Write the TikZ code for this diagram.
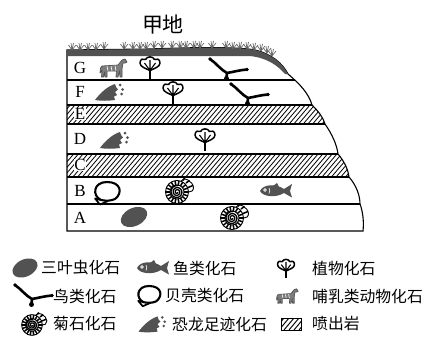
\documentclass[tikz,border=0pt]{standalone}
\usepackage{fontspec}
\setmainfont{Liberation Serif}
\newfontfamily\cjk{Noto Sans CJK SC}
\definecolor{fossil}{gray}{0.32}
\tikzset{
  trilobite/.pic={\fill[fossil, rotate=25] (0,0) ellipse (14 and 9);},
  fishfossil/.pic={
    \fill[fossil] (-16,0) .. controls (-13,-7) and (0,-7.5) .. (8,-2) -- (16,-7)
      -- (14,0) -- (16,6.5) -- (8,2) .. controls (0,7) and (-13,6) .. (-16,0) -- cycle;
    \fill[fossil] (-3,-5) -- (1,-8) -- (3,-4) -- cycle;
    \fill[white] (-11,-1) circle (1.8); \fill[fossil] (-11,-1) circle (0.7);
    \draw[white, line width=0.6] (-7,-3) .. controls (-6,-1) .. (-7,2.5);},
  plantleaf/.pic={
    \draw[line width=1.5, line join=round] (0,3.5) .. controls (-4,1.5) and (-10,0) .. (-10,-4)
      .. controls (-10,-8) and (-6.5,-9) .. (-4.5,-7.5) .. controls (-3,-11) and (3,-11) .. (4.5,-7.5)
      .. controls (6.5,-9) and (10,-8) .. (10,-4) .. controls (10,0) and (4,1.5) .. (0,3.5) -- cycle;
    \draw[line width=1.1] (0,3.5) -- (-5.5,-4) (0,3.5) -- (0,-7) (0,3.5) -- (5.5,-4);
    \draw[line width=1.7] (0,3.5) -- (0,12);},
  birdbone/.pic={
    \draw[line width=2.6, line cap=round, line join=round] (-17,-14) .. controls (-11,-10) and (-6,-3) .. (0,0)
      .. controls (6,-1) and (13,-3) .. (20,-3.5);
    \draw[line width=2.6, line cap=round] (0,0) -- (-0.5,5);
    \fill (-0.5,5.5) circle (2.5) (-17,-14) circle (1.9) (20,-3.5) circle (1.8);},
  shellfossil/.pic={
    \draw[line width=2.1, line join=round] (-6,8) .. controls (-15,4) and (-14,-10) .. (0,-10)
      .. controls (14,-10) and (16,1) .. (8,7) .. controls (4,9) and (-1,9) .. (-6,8);
    \draw[line width=1.7, line join=round] (-6,8) -- (-12,6.5) -- (-7,12.5) -- (1,9);},
  ammonite/.pic={
    \draw[line width=0.9] (0,0) circle (11.5) (0,0) circle (7);
    \foreach \a in {0,20,...,340} \draw[line width=1.5] (\a:7) -- (\a:11.5);
    \draw[line width=1.3] plot[domain=0:1000, samples=100, smooth] (\x:{0.7+\x/1000*5.8});
    \draw[line width=0.9] (-70:11.5) .. controls (6,-16) and (16,-11) .. (16.5,-4.5)
      .. controls (16.5,-1) and (14,0) .. (11.5,0);
    \draw[line width=1.5] (6,-11.5) -- (7.5,-14) (9,-9) -- (12.5,-11.5) (11,-4.5) -- (16,-6.5);},
  dinotrack/.pic={
    \fill[fossil] (-11,7) .. controls (-6,0) and (2,-7) .. (9,-9) -- (10,-6) -- (12,-3.5) -- (9,-1)
      -- (11,2) -- (8,3.5) -- (9,7) .. controls (2,8) and (-6,8) .. (-11,7) -- cycle;
    \fill[fossil] (14,-8) circle (1.5) (16.5,-3.5) circle (1.5) (15.5,1) circle (1.5);},
  horse/.pic={
    \filldraw[fill=fossil!75!white, draw=fossil, line width=0.7, line join=round]
      (-11,-2) -- (5,-3) -- (9,-8) -- (12,-9) -- (14,-6) -- (12,-5) -- (10,-5) -- (9,1)
      -- (9,9) -- (7,9) -- (6.5,3) -- (5,9) -- (3,9) -- (3.5,3) -- (-6,3) -- (-6,9) -- (-8,9)
      -- (-8.5,4) -- (-9.5,9) -- (-11.5,9) -- (-11,2) -- (-13,5) -- (-12.5,0) -- cycle;
    \draw[white, line width=0.6] (-6,-2) -- (-5,3) (-2,-2) -- (-1,3) (2,-2.5) -- (3,3);},
  hatchbox/.pic={
    \draw[line width=0.9] (-10,-6) rectangle (10,6);
    \clip (-10,-6) rectangle (10,6);
    \foreach \k in {0,...,9} \draw[line width=0.9] (-22+5*\k,6) -- ++(10,-12);},
  tuft/.pic={\draw[gray!80!black, line width=0.7] (0,0) -- (-3.5,-5) (0,0) -- (-1,-7) (0,0) -- (1.5,-7) (0,0) -- (4,-5);}
}
\def\blockpath{(67,231) -- (67,50) -- (150,49) .. controls (200,47) and (240,47) .. (255,50)
  .. controls (272,54) and (283,64) .. (288,74) .. controls (300,84) and (309,94) .. (312,105)
  .. controls (318,111) and (323,117) .. (325,124) .. controls (332,134) and (337,145) .. (338,154)
  .. controls (344,161) and (348,169) .. (349,177) .. controls (356,185) and (360,195) .. (360,204)
  .. controls (363,212) and (364,222) .. (363,231) -- cycle}
\begin{document}
\begin{tikzpicture}[x=1pt, y=-1pt,
    layerlbl/.style={font=\fontsize{17}{17}\selectfont, inner sep=0.5pt},
    legendtxt/.style={anchor=west, inner sep=0pt, font=\cjk\fontsize{15.8}{16}\selectfont},
    bound/.style={line width=1.1}]
  \useasboundingbox (0,0) rectangle (424,340);
  \node[font=\cjk\fontsize{21}{21}\selectfont] (title) at (163,25) {甲地};
  \begin{scope}
    \clip \blockpath;
    \foreach \ya/\yb in {105/124, 154/177} {
      \begin{scope}
        \clip (60,\ya) rectangle (380,\yb);
        \foreach \k in {0,...,70}
        \draw[line width=0.8] (40+4.7*\k,\yb) -- ++({0.85*(\yb-\ya)},{\ya-\yb});
      \end{scope}
    }
    \foreach \y in {80, 105, 124, 154, 177, 204}
    \draw[bound] (60,\y) -- (380,\y);
  \end{scope}
  \draw[bound] \blockpath;
  \fill[fossil] (67,50) -- (150,49) .. controls (200,47) and (240,47) .. (255,50)
    .. controls (272,54) and (283,64) .. (288,74) -- (285,74)
    .. controls (278,66) and (268,58) .. (250,56) -- (67,56) -- cycle;
  \foreach \x/\y in {72/50, 80/50, 88/50, 96/50, 104/49, 124/49, 133/49, 140/49, 146/49,
    154/48, 162/48, 172/48, 180/48, 186/48, 194/48, 200/48, 212/48, 226/48, 233/49,
    240/49, 247/49, 254/50, 261/51, 267/53, 272/56}
  \pic at (\x,\y) {tuft};
  \foreach \n/\y in {G/68, F/92, D/139, B/191, A/218}
  \node[layerlbl] (lbl\n) at (80,\y) {\n};
  \foreach \n/\y in {E/114, C/165}
  \node[layerlbl, fill=white] (lbl\n) at (80,\y) {\n};
  % layer G
  \pic at (113,68) {horse};
  \pic at (150,67) {plantleaf};
  \pic at (227,73) {birdbone};
  % layer F
  \pic at (106,93) {dinotrack};
  \pic at (173,92) {plantleaf};
  \pic at (248,98) {birdbone};
  % layer D
  \pic at (111,141) {dinotrack};
  \pic at (205,139) {plantleaf};
  % layer B
  \pic at (107,192) {shellfossil};
  \pic at (177,192) {ammonite};
  \pic at (276,191) {fishfossil};
  % layer A
  \pic at (134,217) {trilobite};
  \pic at (232,218) {ammonite};
  % legend
  \pic[scale=0.95] at (25,268) {trilobite};
  \node[legendtxt] (lgtrilo) at (41,268) {三叶虫化石};
  \pic at (153,268) {fishfossil};
  \node[legendtxt] (lgfish) at (173,268) {鱼类化石};
  \pic[scale=0.85] at (286,268) {plantleaf};
  \node[legendtxt] (lgplant) at (312,268) {植物化石};
  \pic at (32,299) {birdbone};
  \node[legendtxt] (lgbird) at (53,296) {鸟类化石};
  \pic[scale=0.9] at (149,295) {shellfossil};
  \node[legendtxt] (lgshell) at (165,296) {贝壳类化石};
  \pic[scale=0.8] at (287,296) {horse};
  \node[legendtxt] (lgmammal) at (312,296) {哺乳类动物化石};
  \pic[scale=0.9] at (32,325) {ammonite};
  \node[legendtxt] (lgammo) at (53,324) {菊石化石};
  \pic[scale=0.95] at (149,325) {dinotrack};
  \node[legendtxt] (lgtrack) at (172,324) {恐龙足迹化石};
  \pic at (291,324) {hatchbox};
  \node[legendtxt] (lgrock) at (312,324) {喷出岩};
\end{tikzpicture}
\end{document}
